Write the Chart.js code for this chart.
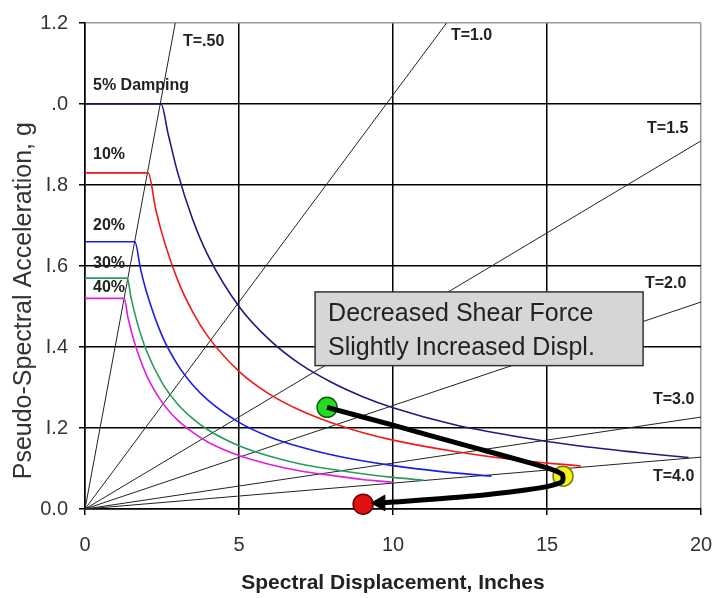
<!DOCTYPE html>
<html>
<head>
<meta charset="utf-8">
<script src="https://cdn.jsdelivr.net/npm/chart.js@4/dist/chart.umd.min.js"></script>
<style>
  html, body { margin: 0; padding: 0; background: #fff; }
  #wrap { width: 719px; height: 598px; }
</style>
</head>
<body>
<div id="wrap"><canvas id="spectrumCanvas" width="719" height="598"></canvas></div>
<script>
// Spectral displacement (in) / pseudo-spectral acceleration (g) pairs
const damp5X  = [0, 2.47, 2.7, 3, 3.5, 4, 5, 6, 7, 8, 9, 10, 12, 14, 16, 18, 19.6];
const damp5Y  = [1.0, 1.0, 0.926, 0.833, 0.714, 0.625, 0.5, 0.417, 0.357, 0.313, 0.278, 0.25, 0.208, 0.179, 0.156, 0.139, 0.127];
const damp10X = [0, 2.05, 2.3, 2.5, 3, 3.5, 4, 5, 6, 7, 8, 9, 10, 12, 14, 16.1];
const damp10Y = [0.83, 0.83, 0.739, 0.68, 0.567, 0.486, 0.425, 0.34, 0.283, 0.243, 0.213, 0.189, 0.17, 0.142, 0.121, 0.106];
const damp20X = [0, 1.62, 1.8, 2, 2.5, 3, 3.5, 4, 5, 6, 7, 8, 9, 10, 11.5, 13.2];
const damp20Y = [0.66, 0.66, 0.594, 0.535, 0.428, 0.357, 0.306, 0.268, 0.214, 0.178, 0.153, 0.134, 0.119, 0.107, 0.093, 0.081];
const damp30X = [0, 1.37, 1.5, 1.7, 2, 2.5, 3, 3.5, 4, 5, 6, 7, 8, 9, 10, 11];
const damp30Y = [0.57, 0.57, 0.52, 0.459, 0.39, 0.312, 0.26, 0.223, 0.195, 0.156, 0.13, 0.111, 0.098, 0.087, 0.078, 0.071];
const damp40X = [0, 1.27, 1.4, 1.6, 2, 2.5, 3, 3.5, 4, 5, 6, 7, 8, 9, 10];
const damp40Y = [0.52, 0.52, 0.471, 0.413, 0.33, 0.264, 0.22, 0.189, 0.165, 0.132, 0.11, 0.094, 0.083, 0.073, 0.066];

// constant period lines, from origin to plot edge
const periodEndX = [2.93, 11.74, 20, 20, 20, 20];
const periodEndY = [1.2, 1.2, 0.909, 0.511, 0.227, 0.128];

// performance points: before, at yield, after retrofit
const pointX = [7.86, 15.52, 9.03];
const pointY = [0.251, 0.081, 0.012];

// the bent arrow from green through yellow to red
const arrowX = [7.86, 10.0, 12.6, 14.3, 15.1, 15.5, 15.5, 15.1, 14.3, 12.6, 10.2, 9.59];
const arrowY = [0.251, 0.207, 0.152, 0.117, 0.099, 0.085, 0.068, 0.057, 0.047, 0.032, 0.018, 0.015];

const xTickLabels = ['0', '5', '10', '15', '20'];
const yTickLabels = ['0.0', 'I.2', 'I.4', 'I.6', 'I.8', '.0', '1.2'];

const dampLabels  = ['5% Damping', '10%', '20%', '30%', '40%'];
const dampLabelX  = [0.26, 0.26, 0.26, 0.26, 0.26];
const dampLabelY  = [1.045, 0.876, 0.699, 0.607, 0.546];
const periodLabels = ['T=.50', 'T=1.0', 'T=1.5', 'T=2.0', 'T=3.0', 'T=4.0'];
const periodLabelX = [3.18, 11.88, 18.25, 18.18, 18.44, 18.44];
const periodLabelY = [1.153, 1.168, 0.94, 0.556, 0.271, 0.079];

const noteLines = ['Decreased Shear Force', 'Slightly Increased Displ.'];

const FONT = "'Liberation Sans', Arial, sans-serif";

const toXY = (xs, ys) => xs.map((x, i) => ({ x: x, y: ys[i] }));

// damping curves
const curveColors = ['#1c1c7c', '#f01818', '#1c1ce6', '#2a9a5a', '#e01ee0'];
const curves = [
  [damp5X, damp5Y], [damp10X, damp10Y], [damp20X, damp20Y], [damp30X, damp30Y], [damp40X, damp40Y]
].map((c, i) => ({
  data: toXY(c[0], c[1]),
  showLine: true,
  borderColor: curveColors[i],
  borderWidth: 1.6,
  pointRadius: 0,
  cubicInterpolationMode: 'monotone'
}));

// period lines
const periodLines = periodEndX.map((x, i) => ({
  data: [{ x: 0, y: 0 }, { x: x, y: periodEndY[i] }],
  showLine: true,
  borderColor: '#222',
  borderWidth: 1,
  pointRadius: 0
}));

const arrowRadius = arrowX.map((_, i) => i === arrowX.length - 1 ? 9 : 0);
const arrowStyle = arrowX.map((_, i) => i === arrowX.length - 1 ? 'triangle' : 'circle');

const datasets = [
  {
    data: toXY(arrowX, arrowY),
    showLine: true,
    borderColor: '#000',
    borderWidth: 5,
    tension: 0.2,
    pointRadius: arrowRadius,
    pointStyle: arrowStyle,
    pointRotation: 270,
    pointBackgroundColor: '#000',
    pointBorderColor: '#000',
    pointBorderWidth: 1,
    clip: false
  },
  {
    data: toXY(pointX, pointY),
    showLine: false,
    pointRadius: 10,
    pointBackgroundColor: ['#22dd22', '#f2f21e', '#e01010'],
    pointBorderColor: ['#0b5e0b', '#7a7a00', '#6a0000'],
    pointBorderWidth: 1.5,
    clip: false
  },
  ...curves,
  ...periodLines
];

// text labels and the note box, placed through the chart's own scales
const labelPlugin = {
  id: 'labels',
  afterDatasetsDraw(chart) {
    const { ctx, scales: { x, y } } = chart;
    ctx.save();
    ctx.fillStyle = '#222';
    ctx.textBaseline = 'middle';
    ctx.textAlign = 'left';
    ctx.font = 'bold 16px ' + FONT;
    dampLabels.forEach((t, i) => {
      ctx.fillText(t, x.getPixelForValue(dampLabelX[i]), y.getPixelForValue(dampLabelY[i]));
    });
    periodLabels.forEach((t, i) => {
      ctx.fillText(t, x.getPixelForValue(periodLabelX[i]), y.getPixelForValue(periodLabelY[i]));
    });

    // note box
    const bx0 = x.getPixelForValue(7.47), bx1 = x.getPixelForValue(18.12);
    const by0 = y.getPixelForValue(0.536), by1 = y.getPixelForValue(0.354);
    ctx.fillStyle = '#d6d6d6';
    ctx.fillRect(bx0, by0, bx1 - bx0, by1 - by0);
    ctx.strokeStyle = '#333';
    ctx.lineWidth = 1.5;
    ctx.strokeRect(bx0, by0, bx1 - bx0, by1 - by0);
    ctx.fillStyle = '#222';
    ctx.font = '25px ' + FONT;
    ctx.fillText(noteLines[0], bx0 + 13, by0 + 22);
    ctx.fillText(noteLines[1], bx0 + 13, by0 + 56);
    ctx.restore();
  }
};

const ctx = document.getElementById('spectrumCanvas').getContext('2d');
new Chart(ctx, {
  type: 'scatter',
  data: { datasets: datasets },
  options: {
    responsive: false,
    animation: false,
    layout: { padding: { top: 21, right: 18, left: 0, bottom: 0 } },
    plugins: {
      legend: { display: false },
      tooltip: { enabled: false }
    },
    scales: {
      x: {
        type: 'linear',
        min: 0,
        max: 20,
        // fixed axis height; label padding should not eat into the right side
        afterFit: s => { s.height = 89; s.paddingRight = 0; },
        ticks: {
          stepSize: 5,
          padding: 18,
          color: '#333',
          font: { family: FONT, size: 20 },
          callback: (v, i) => xTickLabels[i]
        },
        grid: {
          color: c => c.tick && c.tick.value === 20 ? '#9a9a9a' : '#000',
          lineWidth: 1.5,
          tickLength: 6,
          tickColor: '#000'
        },
        border: { color: '#000', width: 1.5 },
        title: {
          display: true,
          text: 'Spectral Displacement, Inches',
          color: '#222',
          font: { family: FONT, size: 21, weight: 'bold' },
          padding: { top: 0, bottom: 2 }
        }
      },
      y: {
        type: 'linear',
        min: 0,
        max: 1.2,
        afterFit: s => { s.width = 85; },
        ticks: {
          stepSize: 0.2,
          padding: 11,
          color: '#333',
          font: { family: FONT, size: 20 },
          callback: (v, i) => yTickLabels[i]
        },
        grid: {
          color: c => c.tick && Math.abs(c.tick.value - 1.2) < 1e-6 ? '#9a9a9a' : '#000',
          lineWidth: 1.5,
          tickLength: 6,
          tickColor: '#000'
        },
        border: { color: '#000', width: 1.5 },
        title: {
          display: true,
          text: 'Pseudo-Spectral Acceleration, g          ',
          color: '#333',
          font: { family: FONT, size: 25 },
          padding: { top: 9, bottom: 0 }
        }
      }
    }
  },
  plugins: [labelPlugin]
});
</script>
</body>
</html>
